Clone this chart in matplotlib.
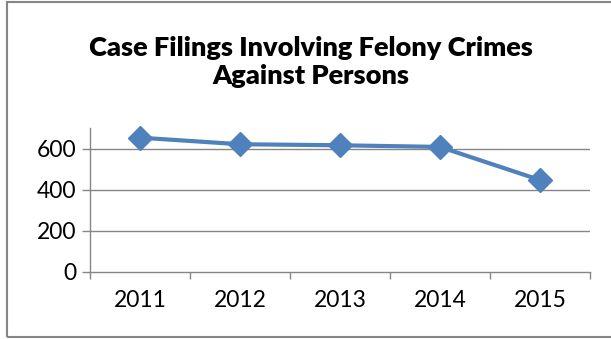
import matplotlib.pyplot as plt
from matplotlib.patches import Rectangle

years = ['2011', '2012', '2013', '2014', '2015']
filings = [653, 621, 616, 608, 447]
y_ticks = [0, 200, 400, 600]

grid_gray = '#868686'
line_blue = '#4F81BD'

fig = plt.figure(figsize=(6.11, 3.39), dpi=100)
ax = fig.add_axes([90/611, 1 - 272/339, 500/611, 144/339])

x = list(range(len(years)))
ax.plot(x, filings, color=line_blue, lw=3, marker='D', ms=12,
        mfc=line_blue, mec=line_blue, zorder=3, clip_on=False)

ax.set_xlim(-0.5, len(years) - 0.5)
ax.set_ylim(0, 700)
ax.set_yticks(y_ticks)
ax.set_yticklabels([str(t) for t in y_ticks], fontsize=16.5, family='Lato')
ax.set_xticks(x)
ax.set_xticklabels(years, fontsize=16.5, family='Lato')

# category boundary ticks below the axis
ax.set_xticks([i - 0.5 for i in range(len(years) + 1)], minor=True)
ax.tick_params(axis='x', which='major', length=0, pad=13)
ax.tick_params(axis='x', which='minor', length=5, width=1, color=grid_gray)
ax.tick_params(axis='y', length=6, width=1, color=grid_gray, pad=4)

for t in y_ticks[1:]:
    ax.axhline(t, color=grid_gray, lw=1, zorder=1)

for s in ['top', 'right']:
    ax.spines[s].set_visible(False)
for s in ['left', 'bottom']:
    ax.spines[s].set_color(grid_gray)
    ax.spines[s].set_linewidth(1)

fig.text(311/611, 1 - 62/339,
         'Case Filings Involving Felony Crimes\nAgainst Persons',
         ha='center', va='center', fontsize=19.5, fontweight='heavy',
         family='Lato', linespacing=1.15)

# outer chart border
fig.patches.append(Rectangle((7/611, 1 - 337/339), 1, 335/339,
                             transform=fig.transFigure, fill=False,
                             edgecolor=grid_gray, lw=1.5))

fig.savefig('out.png', dpi=100)
